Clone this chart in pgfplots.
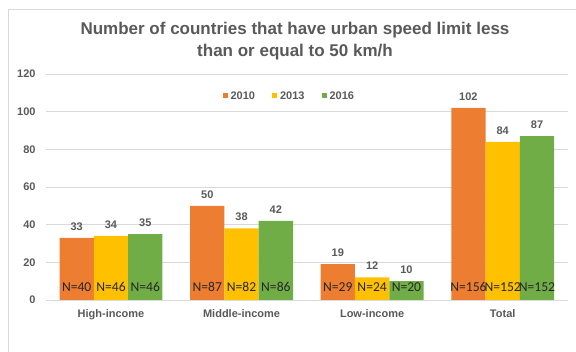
\documentclass[border=0pt]{standalone}
\usepackage{pgfplots}
\usepackage{pgfplotstable}
\pgfplotsset{compat=1.18}
\usepackage{fontspec}
\setmainfont{Liberation Sans}
\newfontfamily\calib{Carlito}

\definecolor{c2010}{HTML}{ED7D31}
\definecolor{c2013}{HTML}{FFC000}
\definecolor{c2016}{HTML}{70AD47}
\definecolor{txtgray}{HTML}{595959}
\definecolor{gridgray}{HTML}{D9D9D9}
\definecolor{ntext}{HTML}{262626}

% x: group (0 High, 1 Middle, 2 Low, 3 Total), y: countries, n: sample size, z: label base
\pgfplotstableread{
x y n z
0 33 40 0
1 50 87 0
2 19 29 0
3 102 156 0
}\yrA
\pgfplotstableread{
x y n z
0 34 46 0
1 38 82 0
2 12 24 0
3 84 152 0
}\yrB
\pgfplotstableread{
x y n z
0 35 46 0
1 42 86 0
2 10 20 0
3 87 152 0
}\yrC

\pgfplotsset{
  sq legend/.style={legend image code/.code={%
      \fill[##1,draw=none] (0pt,-2.5pt) rectangle (5pt,2.5pt);
      \path (8pt,0pt);}},
  valbar/.style={ybar, bar width=34.3pt, bar shift=#1, draw=none,
    nodes near coords,
    every node near coord/.append style={font=\bfseries\fontsize{11}{13}\selectfont,
      text=txtgray, anchor=center, xshift=#1, yshift=11.5pt, inner sep=0pt}},
  nlab/.style={ybar, bar width=34.3pt, bar shift=#1, draw=none, fill=none, forget plot,
    point meta=explicit symbolic,
    nodes near coords={N=\pgfplotspointmeta},
    every node near coord/.append style={font=\calib\fontsize{13.6}{15}\selectfont,
      text=ntext, anchor=center, xshift=#1, yshift=13pt, inner sep=0pt}},
}

\begin{document}
\begin{tikzpicture}
\useasboundingbox (0pt,0pt) rectangle (576pt,351pt);
\draw[gridgray, line width=0.8pt] (8.5pt,-10pt) -- (8.5pt,341.5pt) -- (600pt,341.5pt);

\node[font=\bfseries\fontsize{17}{20}\selectfont, text=txtgray, anchor=base]
  at (295pt,316.7pt) {Number of countries that have urban speed limit less};
\node[font=\bfseries\fontsize{17}{20}\selectfont, text=txtgray, anchor=base]
  at (295pt,294.5pt) {than or equal to 50 km/h};

\begin{axis}[
  at={(45.7pt,51pt)}, anchor=south west,
  scale only axis, width=522.3pt, height=226pt,
  xmin=-0.5, xmax=3.5, ymin=0, ymax=120,
  ytick={0,20,...,120},
  xtick={0,1,2,3},
  xticklabels={High-income,Middle-income,Low-income,Total},
  axis line style={draw=none},
  major tick length=0pt,
  ymajorgrids, grid style={gridgray, line width=0.8pt},
  /pgf/number format/assume math mode=true,
  tick label style={font=\bfseries\fontsize{11}{13}\selectfont, text=txtgray},
  yticklabel style={anchor=east, inner sep=0pt, xshift=-10pt},
  xticklabel style={anchor=base, inner sep=0pt, yshift=-17pt},
  legend columns=3,
  legend style={at={(0.4645,0.9027)}, anchor=center, draw=none, fill=none,
    font=\bfseries\fontsize{11}{13}\selectfont, text=txtgray,
    nodes={inner sep=0pt}, cells={anchor=west},
    /tikz/every even column/.append style={column sep=17pt}},
  clip=false,
]
\addplot[valbar=-34.3pt, fill=c2010, sq legend] table[x=x, y=y] {\yrA};
\addplot[valbar=0pt, fill=c2013, sq legend] table[x=x, y=y] {\yrB};
\addplot[valbar=34.3pt, fill=c2016, sq legend] table[x=x, y=y] {\yrC};
\legend{2010,2013,2016}

\addplot[nlab=-34.3pt] table[x=x, y=z, meta=n] {\yrA};
\addplot[nlab=0pt] table[x=x, y=z, meta=n] {\yrB};
\addplot[nlab=34.3pt] table[x=x, y=z, meta=n] {\yrC};
\end{axis}
\end{tikzpicture}
\end{document}
